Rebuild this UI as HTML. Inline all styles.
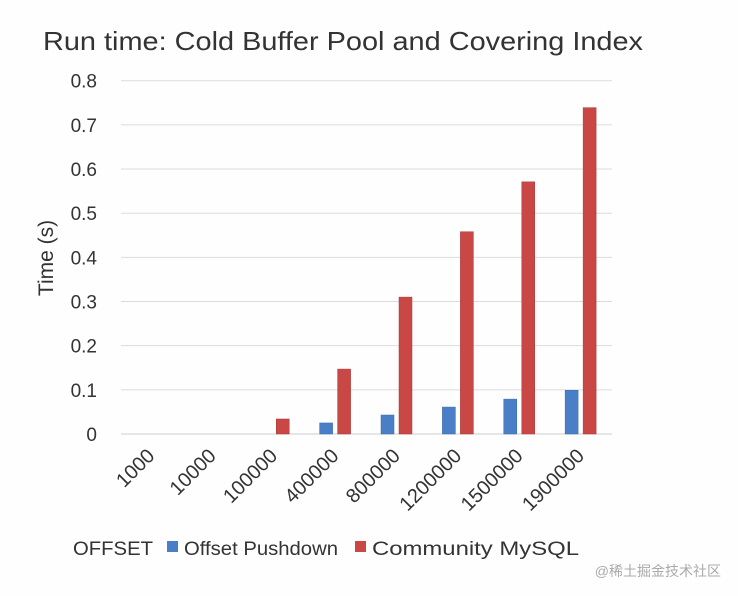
<!DOCTYPE html>
<html><head><meta charset="utf-8"><style>
body{margin:0;background:#fff;}
svg{display:block;font-family:"Liberation Sans","DejaVu Sans","Noto Sans CJK SC",sans-serif;}
</style></head><body>
<svg id="chart" width="738" height="596">
<rect width="738" height="596" fill="#fefefe"/>
<text x="43" y="50" font-size="26" fill="#333" textLength="600" lengthAdjust="spacingAndGlyphs">Run time: Cold Buffer Pool and Covering Index</text>
<text transform="translate(53,258) rotate(-90)" text-anchor="middle" font-size="21" fill="#333">Time (s)</text>
<g id="grid"></g><g id="bars"></g><g id="xlabels"></g>
<text x="73" y="555" font-size="19" fill="#333" textLength="80" lengthAdjust="spacingAndGlyphs">OFFSET</text>
<g>
<rect x="167" y="541" width="11" height="11" fill="#4a7fc8"/>
<text x="184" y="555" font-size="19" fill="#333" textLength="154" lengthAdjust="spacingAndGlyphs">Offset Pushdown</text></g>
<g>
<rect x="355" y="541" width="11" height="11" fill="#c94846"/>
<text x="372" y="555" font-size="19" fill="#333" textLength="207" lengthAdjust="spacingAndGlyphs">Community MySQL</text></g>
<text x="721" y="576" text-anchor="end" font-size="14" fill="#aaa">@稀土掘金技术社区</text>
</svg>
<script>
const categories=["1000","10000","100000","400000","800000","1200000","1500000","1900000"];
const pushdown=[0,0,0,0.025,0.043,0.061,0.079,0.099];
const community=[0,0,0.034,0.147,0.31,0.458,0.571,0.739];
const ticks=[0,0.1,0.2,0.3,0.4,0.5,0.6,0.7,0.8];
const NS="http://www.w3.org/2000/svg";
const X0=121,X1=612,Y0=434,Y1=80.7,MAX=0.8;
const step=(X1-X0)/categories.length;
const y=v=>Y0-(v/MAX)*(Y0-Y1);
function mk(t,a){const e=document.createElementNS(NS,t);for(const k in a)e.setAttribute(k,a[k]);return e;}
const grid=document.getElementById('grid');
ticks.forEach((t,i)=>{
 const l=mk('line',{x1:X0,x2:X1,y1:y(t),y2:y(t),stroke:i==0?'#cfcfcf':'#dcdcdc','stroke-width':1});
 
 
 grid.appendChild(l);
 const tx=mk('text',{x:97,y:y(t)+7,'text-anchor':'end','font-size':19,fill:'#333'});
 tx.textContent=String(t);
 
 
 grid.appendChild(tx);
});
const bars=document.getElementById('bars'),xl=document.getElementById('xlabels');
categories.forEach((c,i)=>{
 const bx=X0+i*step;
 if(pushdown[i]>0){
 const b=mk('rect',{x:bx+14.5,y:y(pushdown[i]),width:13,height:Y0-y(pushdown[i]),fill:'#4a7fc8',stroke:'#3a6aaa','stroke-width':0.5});
 
 
 bars.appendChild(b);}
 if(community[i]>0){
 const r=mk('rect',{x:bx+32.5,y:y(community[i]),width:13,height:Y0-y(community[i]),fill:'#c94846',stroke:'#a53a38','stroke-width':0.5});
 
 
 bars.appendChild(r);}
 const cx=bx+step/2;
 const t=mk('text',{x:0,y:0,'text-anchor':'end','font-size':20,fill:'#333',transform:`translate(${cx+4},${457}) rotate(-45)`});
 t.textContent=c;
 
 
 xl.appendChild(t);
});
</script>
</body></html>
